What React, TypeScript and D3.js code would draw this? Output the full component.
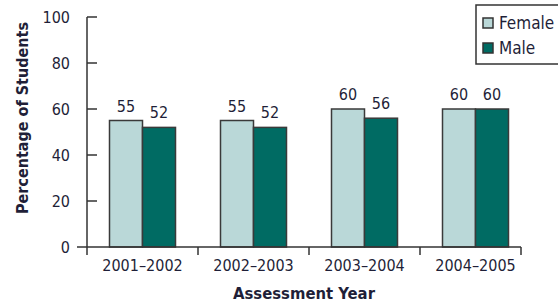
import React, { useEffect, useRef } from 'react';
import * as d3 from 'd3';

const years = ['2001–2002', '2002–2003', '2003–2004', '2004–2005'];
const series = ['Female', 'Male'];
const female = [55, 55, 60, 60];
const male = [52, 52, 56, 60];
const yTicks = [0, 20, 40, 60, 80, 100];

const colors: Record<string, string> = { Female: '#bad8d8', Male: '#006b63' };
const FONT = "'Liberation Sans Narrow', 'DejaVu Sans Condensed', 'Roboto Condensed', sans-serif";
const INK = '#1f1f38';

export default function App() {
  const ref = useRef<SVGSVGElement>(null);

  useEffect(() => {
    if (!ref.current) return;
    const svg = d3.select(ref.current);
    svg.selectAll('*').remove();

    const x0 = d3.scaleBand().domain(years).range([87, 531]);
    const x1 = d3.scaleBand().domain(series).range([0, 66]);
    const y = d3.scaleLinear().domain([0, 100]).range([247, 17]);

    // y axis
    svg.append('line')
      .attr('x1', 87).attr('x2', 87).attr('y1', y(100)).attr('y2', y(0))
      .attr('stroke', '#333').attr('stroke-width', 1.5);
    svg.selectAll('.ytick').data(yTicks.slice(1)).enter().append('line')
      .attr('x1', 87).attr('x2', 97)
      .attr('y1', d => y(d)).attr('y2', d => y(d))
      .attr('stroke', '#333').attr('stroke-width', 1.5);
    svg.selectAll('.ylab').data(yTicks).enter().append('text')
      .attr('x', 70).attr('y', d => y(d)).attr('dy', '0.35em')
      .attr('text-anchor', 'end')
      .attr('font-family', FONT).attr('font-size', 16).attr('fill', INK)
      .text(d => d);

    // bars
    const g = svg.selectAll('.grp').data(years).enter().append('g')
      .attr('transform', d => `translate(${(x0(d) as number) + (x0.bandwidth() - 66) / 2},0)`);
    g.selectAll('rect')
      .data((d, i) => series.map(s => ({ s, v: s === 'Female' ? female[i] : male[i] })))
      .enter().append('rect')
      .attr('x', d => x1(d.s) as number)
      .attr('y', d => y(d.v))
      .attr('width', x1.bandwidth())
      .attr('height', d => y(0) - y(d.v))
      .attr('fill', d => colors[d.s])
      .attr('stroke', '#3a3a3a').attr('stroke-width', 1.5);
    g.selectAll('.val')
      .data((d, i) => series.map(s => ({ s, v: s === 'Female' ? female[i] : male[i] })))
      .enter().append('text')
      .attr('x', d => (x1(d.s) as number) + x1.bandwidth() / 2)
      .attr('y', d => y(d.v) - 9)
      .attr('text-anchor', 'middle')
      .attr('font-family', FONT).attr('font-size', 16).attr('fill', INK)
      .text(d => d.v);

    // x axis
    svg.append('line')
      .attr('x1', 77).attr('x2', 521).attr('y1', y(0)).attr('y2', y(0))
      .attr('stroke', '#333').attr('stroke-width', 1.5);
    const bounds = years.map(d => x0(d) as number).concat([521]);
    svg.selectAll('.xtick').data(bounds).enter().append('line')
      .attr('x1', d => d).attr('x2', d => d)
      .attr('y1', y(0)).attr('y2', y(0) + 8)
      .attr('stroke', '#333').attr('stroke-width', 1.5);
    svg.selectAll('.xlab').data(years).enter().append('text')
      .attr('x', d => (x0(d) as number) + x0.bandwidth() / 2)
      .attr('y', 271)
      .attr('text-anchor', 'middle')
      .attr('font-family', FONT).attr('font-size', 16).attr('fill', INK)
      .text(d => d);

    // axis titles
    svg.append('text')
      .attr('x', 304).attr('y', 299)
      .attr('text-anchor', 'middle')
      .attr('font-family', FONT).attr('font-size', 16.5).attr('font-weight', 'bold').attr('fill', INK)
      .text('Assessment Year');
    svg.append('text')
      .attr('transform', 'translate(28,118) rotate(-90)')
      .attr('text-anchor', 'middle')
      .attr('font-family', FONT).attr('font-size', 16).attr('font-weight', 'bold').attr('fill', INK)
      .text('Percentage of Students');

    // legend
    const lg = svg.append('g').attr('transform', 'translate(476,5)');
    lg.append('rect')
      .attr('x', 0).attr('y', 0).attr('width', 100).attr('height', 59)
      .attr('fill', 'white').attr('stroke', '#333').attr('stroke-width', 1.5);
    series.forEach((s, i) => {
      lg.append('rect')
        .attr('x', 7).attr('y', 13 + i * 25).attr('width', 10).attr('height', 10)
        .attr('fill', colors[s]).attr('stroke', '#333').attr('stroke-width', 1.5);
      lg.append('text')
        .attr('x', 23).attr('y', 18 + i * 25).attr('dy', '0.35em')
        .attr('font-family', FONT).attr('font-size', 17).attr('fill', INK)
        .text(s);
    });
  }, []);

  return (
    <svg ref={ref} width={558} height={304}
      style={{ position: 'absolute', left: 0, top: 0, background: 'white' }} />
  );
}
